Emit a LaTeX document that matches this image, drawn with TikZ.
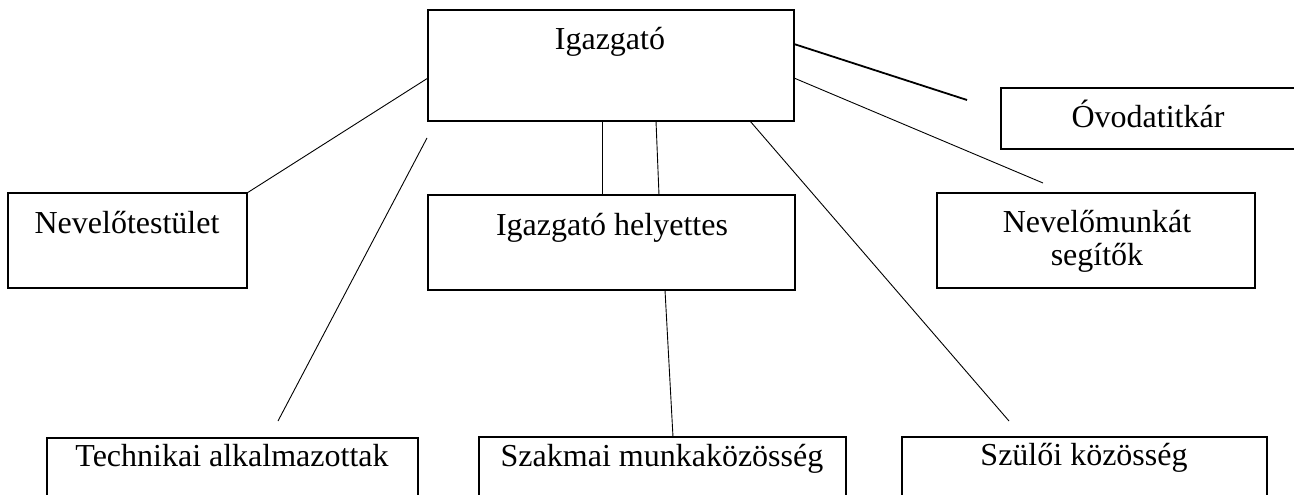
\documentclass[tikz,border=0pt]{standalone}
\usepackage{fontspec}
\setmainfont{Liberation Serif}
\begin{document}
\begin{tikzpicture}[x=1pt,y=-1pt,
  box/.style={draw, line width=1.6pt, rectangle, inner sep=0pt, outer sep=0pt, anchor=north west},
  lbl/.style={font=\fontsize{32}{27}\selectfont, inner sep=0pt, anchor=base},
  conn/.style={line width=0.9pt},
  thickconn/.style={line width=1.8pt}]
\useasboundingbox (0,0) rectangle (1294,495);
\clip (0,0) rectangle (1294,495);
\fill[white] (0,0) rectangle (1294,495);

% boxes
\node[box, minimum width=366pt, minimum height=111pt] (igz)  at (428,10)  {};
\node[box, minimum width=239pt, minimum height=95pt]  (nev)  at (8,193)   {};
\node[box, minimum width=367pt, minimum height=95pt]  (hely) at (428,195) {};
\node[box, minimum width=318pt, minimum height=95pt]  (nms)  at (937,193) {};
\node[box, minimum width=295pt, minimum height=61pt]  (ovo)  at (1001,88) {};
\node[box, minimum width=371pt, minimum height=70pt]  (tech) at (47,438)  {};
\node[box, minimum width=367pt, minimum height=70pt]  (szak) at (479,437) {};
\node[box, minimum width=365pt, minimum height=70pt]  (szul) at (902,437) {};

% labels
\node[lbl] (igzT)  at (610,50)   {Igazgató};
\node[lbl] (nevT)  at (127,233)  {Nevelőtestület};
\node[lbl] (helyT) at (612,235)  {Igazgató helyettes};
\node[lbl, text depth=0pt] (nmsA)  at (1097,232) {Nevelőmunkát};
\node[lbl, text height=21pt] (nmsB)  at (1097,265) {segítők};
\node[lbl] (ovoT)  at (1148,127) {Óvodatitkár};
\node[lbl] (techT) at (232,466)  {Technikai alkalmazottak};
\node[lbl] (szakT) at (662,466)  {Szakmai munkaközösség};
\node[lbl] (szulT) at (1084,465) {Szülői közösség};

% free ends
\coordinate (t1) at (427,138);
\coordinate (t2) at (278,421);
\coordinate (e6) at (1009,421);
\coordinate (e7) at (967,100);
\coordinate (e8) at (1043,183);

% connectors
\draw[conn] (igz.west |- 0,78) -- (nev.north east);
\draw[conn] (t1) -- (t2);
\draw[conn] (602,0 |- igz.south) -- (602,0 |- hely.north);
\draw[conn] (656,0 |- igz.south) -- (659,0 |- hely.north);
\draw[conn] (665,0 |- hely.south) -- (673,0 |- szak.north);
\draw[conn] (750,0 |- igz.south) -- (e6);
\draw[thickconn] (igz.east |- 0,44) -- (e7);
\draw[conn] (igz.east |- 0,78) -- (e8);
\end{tikzpicture}
\end{document}
